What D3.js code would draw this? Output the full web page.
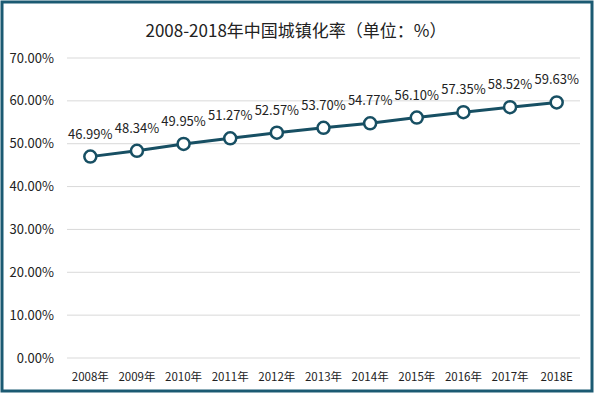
<!DOCTYPE html>
<html lang="zh">
<head>
<meta charset="UTF-8">
<title>2008-2018年中国城镇化率</title>
<script src="https://d3js.org/d3.v7.min.js"></script>
<style>
  body { margin: 0; background: #fff; }
  svg text { font-family: "Noto Sans CJK SC", "Open Sans", sans-serif; fill: #222; }
</style>
</head>
<body>
<svg id="chart" width="600" height="395"></svg>
<script>
const years = ['2008年', '2009年', '2010年', '2011年', '2012年', '2013年', '2014年', '2015年', '2016年', '2017年', '2018E'];
const rates = [46.99, 48.34, 49.95, 51.27, 52.57, 53.70, 54.77, 56.10, 57.35, 58.52, 59.63];
const yTicks = [0, 10, 20, 30, 40, 50, 60, 70];

const svg = d3.select('#chart');

// frame
svg.append('rect')
  .attr('x', 2).attr('y', 2).attr('width', 590).attr('height', 389)
  .attr('fill', 'none').attr('stroke', '#1b5a72').attr('stroke-width', 3);

svg.append('text')
  .attr('x', 296).attr('y', 37)
  .attr('text-anchor', 'middle')
  .style('font-size', '17px')
  .text('2008-2018年中国城镇化率（单位：%）');

const x = d3.scaleBand().domain(years).range([67, 580]);
const y = d3.scaleLinear().domain([0, 70]).range([358, 58]);

// gridlines
svg.append('g').selectAll('line')
  .data(yTicks)
  .join('line')
  .attr('x1', 67).attr('x2', 580)
  .attr('y1', d => y(d)).attr('y2', d => y(d))
  .attr('stroke', '#d9d9d9').attr('stroke-width', 1);

// y labels
svg.append('g').selectAll('text')
  .data(yTicks)
  .join('text')
  .attr('x', 54).attr('y', d => y(d) + 4.5)
  .attr('text-anchor', 'end')
  .style('font-size', '13px')
  .text(d => d.toFixed(2) + '%');

// x labels
svg.append('g').selectAll('text')
  .data(years)
  .join('text')
  .attr('x', d => x(d) + x.bandwidth() / 2).attr('y', 381)
  .attr('text-anchor', 'middle')
  .style('font-size', '11.5px')
  .text(d => d);

const pts = years.map((d, i) => ({ year: d, v: rates[i] }));
const cx = d => x(d.year) + x.bandwidth() / 2;

svg.append('path')
  .datum(pts)
  .attr('fill', 'none')
  .attr('stroke', '#174f63')
  .attr('stroke-width', 3)
  .attr('d', d3.line().x(cx).y(d => y(d.v)));

svg.append('g').selectAll('circle')
  .data(pts)
  .join('circle')
  .attr('cx', cx).attr('cy', d => y(d.v))
  .attr('r', 6)
  .attr('fill', '#fff')
  .attr('stroke', '#174f63')
  .attr('stroke-width', 2.5);

svg.append('g').selectAll('text')
  .data(pts)
  .join('text')
  .attr('x', cx).attr('y', d => y(d.v) - 18)
  .attr('text-anchor', 'middle')
  .style('font-size', '13px')
  .text(d => d.v.toFixed(2) + '%');
</script>
</body>
</html>
